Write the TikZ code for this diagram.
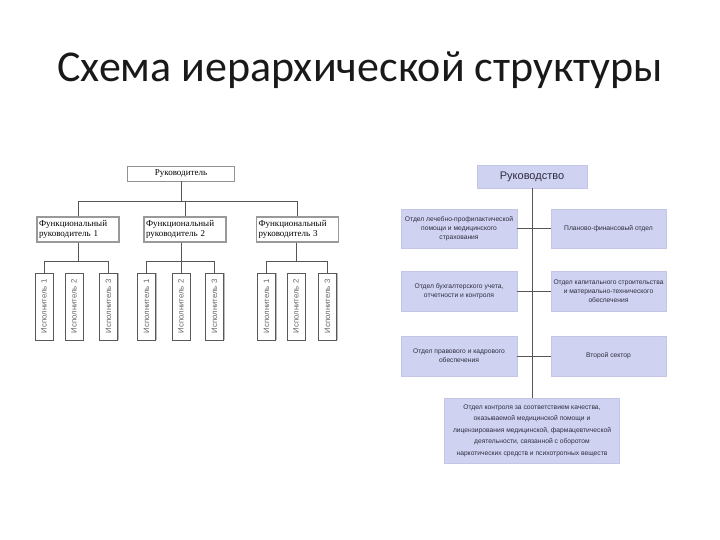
\documentclass[tikz,border=0pt]{standalone}
\usepackage{fontspec}
\usepackage{graphicx}
\setmainfont{Liberation Serif}
\setsansfont{Liberation Sans}
\newfontfamily\titlefont{Carlito}
\newfontfamily\arialfont{Liberation Sans}
\usetikzlibrary{shadows}
\definecolor{lav}{RGB}{208,210,242}
\definecolor{lavedge}{RGB}{196,198,232}
\definecolor{conn}{RGB}{85,85,85}
\definecolor{rtext}{RGB}{45,45,60}
\begin{document}
\begin{tikzpicture}[x=1pt,y=-1pt,
  lc/.style={draw=conn, line width=0.7pt},
  rc/.style={draw=conn, line width=0.7pt},
  rukbox/.style={draw=gray!85, line width=0.9pt, fill=white, minimum width=107pt, minimum height=15pt, inner sep=1pt, font=\fontsize{9}{10}\selectfont},
  fbox/.style={draw=gray!80, line width=1.1pt, fill=white, text width=78pt, minimum height=25pt, inner sep=2pt, align=left, font=\fontsize{9}{10}\selectfont},
  ebox/.style={draw=black!65, line width=0.6pt, fill=white, minimum width=18pt, minimum height=67pt, inner sep=0pt, font=\arialfont\fontsize{7.8}{8}\selectfont\color{black!60}, drop shadow={shadow xshift=1.3pt, shadow yshift=0pt, fill=gray!55, opacity=1}},
  dept/.style={fill=lav, draw=lavedge, line width=0.4pt, inner sep=1pt, align=center, text=rtext, font=\arialfont\fontsize{6.7}{9}\selectfont},
]
\useasboundingbox (0,0) rectangle (720,540);

\node[font=\titlefont\fontsize{44}{52}\selectfont, text=black!90] (title) at (360,70) {Схема иерархической структуры};

% ---------- left chart ----------
\coordinate (busA) at (0,201);
\coordinate (busB) at (0,261);

\node[rukbox] (ruk) at (181,173.5) {Руководитель};

\node[fbox] (f1) at (78,229.5) {Функциональный\\руководитель 1};
\node[fbox] (f2) at (185,229.5) {Функциональный\\руководитель 2};
\node[fbox] (f3) at (297.5,229.5) {Функциональный\\руководитель 3};

\foreach \n/\x/\t in {e11/44/1, e12/74/2, e13/108.5/3, e21/146.5/1, e22/181/2, e23/214.5/3, e31/266.5/1, e32/296/2, e33/327.5/3}
  \node[ebox] (\n) at (\x,306.5) {\rotatebox{90}{Исполнитель \t}};

\draw[lc] (ruk.south) -- (ruk.south |- busA);
\draw[lc] (f1.north) |- (f3.north |- busA) -- (f3.north);
\draw[lc] (f2.north) -- (f2.north |- busA);

\draw[lc] (f1.south) -- (f1.south |- busB);
\draw[lc] (e11.north) |- (e13.north |- busB) -- (e13.north);
\draw[lc] (e22.north |- f2.south) -- (e22.north);
\draw[lc] (e21.north) |- (e23.north |- busB) -- (e23.north);
\draw[lc] (e32.north |- f3.south) -- (e32.north |- busB);
\draw[lc] (e31.north) |- (e33.north |- busB) -- (e33.north);

% ---------- right chart ----------
\node[dept, minimum width=110pt, minimum height=23pt, font=\arialfont\fontsize{11}{12}\selectfont, text=rtext] (rk) at (532,176.5) {Руководство};

\node[dept, minimum width=116pt, minimum height=39pt] (a1) at (459,228.5) {Отдел лечебно-профилактической\\помощи и медицинского\\страхования};
\node[dept, minimum width=115pt, minimum height=39pt] (b1) at (608.5,228.5) {Планово-финансовый отдел};

\node[dept, minimum width=116pt, minimum height=40pt] (a2) at (459,291) {Отдел бухгалтерского учета,\\отчетности и контроля};
\node[dept, minimum width=115pt, minimum height=40pt] (b2) at (608.5,291) {Отдел капитального строительства\\и материально-технического\\обеспечения};

\node[dept, minimum width=116pt, minimum height=40pt] (a3) at (459,356) {Отдел правового и кадрового\\обеспечения};
\node[dept, minimum width=115pt, minimum height=40pt] (b3) at (608.5,356) {Второй сектор};

\node[dept, minimum width=175pt, minimum height=65pt, font=\arialfont\fontsize{6.7}{11.5}\selectfont] (bot) at (532,430.5) {Отдел контроля за соответствием качества,\\оказываемой медицинской помощи и\\лицензирования медицинской, фармацевтической\\деятельности, связанной с оборотом\\наркотических средств и психотропных веществ};

\draw[rc] (rk.south) -- (bot.north);
\draw[rc] (a1.east) -- (b1.west);
\draw[rc] (a2.east) -- (b2.west);
\draw[rc] (a3.east) -- (b3.west);
\end{tikzpicture}
\end{document}
